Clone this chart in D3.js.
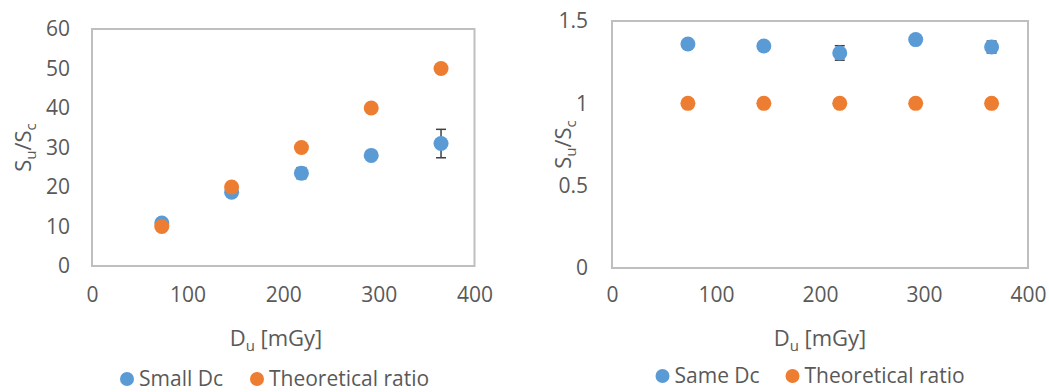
<!DOCTYPE html>
<html>
<head>
<meta charset="utf-8">
<script src="https://cdn.jsdelivr.net/npm/d3@7"></script>
<style>
  html, body { margin: 0; padding: 0; background: #fff; }
  svg { display: block; }
  text { font-family: "Open Sans", "Noto Sans", sans-serif; fill: #595959; }
</style>
</head>
<body>
<svg id="chart" width="1049" height="392"></svg>
<script>
// Absorbed dose of the unknown sample, mGy
const doses = [73, 146, 219, 292, 365];

// Left panel: small control dose
const smallDc = [10.9, 18.7, 23.5, 28.0, 31.0];
const smallDcErr = [0.3, 0.4, 1.4, 0.4, 3.6];
const smallTheory = [10, 20, 30, 40, 50];
const smallYTicks = [0, 10, 20, 30, 40, 50, 60];

// Right panel: same control dose
const sameDc = [1.360, 1.348, 1.306, 1.387, 1.342];
const sameDcErr = [0.005, 0.005, 0.044, 0.005, 0.036];
const sameTheory = [1, 1, 1, 1, 1];
const sameYTicks = [0, 0.5, 1, 1.5];

const xTicks = [0, 100, 200, 300, 400];

const BLUE = "#5b9bd5", ORANGE = "#ed7d31", FRAME = "#bfbfbf", ERR = "#404040";
const FS = 21;     // tick labels and legend
const TFS = 22;    // axis titles

const svg = d3.select("#chart");

function panel(cfg) {
  const g = svg.append("g");
  const x = d3.scaleLinear().domain([0, 400]).range([cfg.left, cfg.right]);
  const y = d3.scaleLinear().domain(cfg.yDomain).range([cfg.bottom, cfg.top]);

  // plot area frame
  g.append("rect")
    .attr("x", cfg.left).attr("y", cfg.top)
    .attr("width", cfg.right - cfg.left).attr("height", cfg.bottom - cfg.top)
    .attr("fill", "none").attr("stroke", FRAME).attr("stroke-width", 2);

  // y tick labels
  const yAxis = d3.axisLeft(y).tickValues(cfg.yTicks).tickSize(0).tickPadding(cfg.yPad)
    .tickFormat(d3.format("~g"));
  g.append("g").attr("transform", `translate(${cfg.left},0)`).call(yAxis)
    .call(a => a.select(".domain").remove())
    .selectAll("text").attr("font-size", FS).attr("fill", "#595959")
    .attr("font-family", "'Open Sans', sans-serif");

  // x tick labels
  const xAxis = d3.axisBottom(x).tickValues(xTicks).tickSize(0).tickPadding(cfg.xPad)
    .tickFormat(d3.format("d"));
  g.append("g").attr("transform", `translate(0,${cfg.bottom})`).call(xAxis)
    .call(a => a.select(".domain").remove())
    .selectAll("text").attr("font-size", FS).attr("fill", "#595959")
    .attr("font-family", "'Open Sans', sans-serif");

  // error bars (under the markers)
  const eb = g.append("g").attr("stroke", ERR).attr("stroke-width", 1.5);
  cfg.measured.forEach((v, i) => {
    const cx = x(doses[i]), e = cfg.err[i];
    eb.append("line").attr("x1", cx).attr("x2", cx).attr("y1", y(v - e)).attr("y2", y(v + e));
    [v - e, v + e].forEach(w => eb.append("line")
      .attr("x1", cx - 5).attr("x2", cx + 5).attr("y1", y(w)).attr("y2", y(w)));
  });

  // measured series
  g.append("g").selectAll("circle").data(cfg.measured).join("circle")
    .attr("cx", (d, i) => x(doses[i])).attr("cy", d => y(d))
    .attr("r", 7.5).attr("fill", BLUE);

  // theoretical series
  g.append("g").selectAll("circle").data(cfg.theory).join("circle")
    .attr("cx", (d, i) => x(doses[i])).attr("cy", d => y(d))
    .attr("r", 7.5).attr("fill", ORANGE);

  // y axis title S_u/S_c
  const yt = g.append("text")
    .attr("transform", `translate(${cfg.yTitleX},${(cfg.top + cfg.bottom) / 2}) rotate(-90)`)
    .attr("text-anchor", "middle").attr("font-size", TFS);
  yt.append("tspan").text("S");
  yt.append("tspan").attr("font-size", 15).attr("dy", 5).text("u");
  yt.append("tspan").attr("dy", -5).text("/S");
  yt.append("tspan").attr("font-size", 15).attr("dy", 5).text("c");

  // x axis title D_u [mGy]
  const xt = g.append("text")
    .attr("x", cfg.xTitleX).attr("y", 346)
    .attr("text-anchor", "middle").attr("font-size", TFS);
  xt.append("tspan").text("D");
  xt.append("tspan").attr("font-size", 15).attr("dy", 5).text("u");
  xt.append("tspan").attr("dy", -5).text(" [mGy]");

  // legend
  const lg = g.append("g");
  cfg.legend.forEach(item => {
    lg.append("circle").attr("cx", item.cx).attr("cy", cfg.legendY - 7)
      .attr("r", 7).attr("fill", item.color);
    lg.append("text").attr("x", item.cx + 12).attr("y", cfg.legendY)
      .attr("font-size", FS).text(item.label);
  });
}

panel({
  left: 92, right: 474.5, top: 29, bottom: 266,
  yDomain: [0, 60], yTicks: smallYTicks, yPad: 22, xPad: 21,
  measured: smallDc, err: smallDcErr, theory: smallTheory,
  yTitleX: 31, xTitleX: 276, legendY: 386,
  legend: [
    { cx: 127, color: BLUE, label: "Small Dc" },
    { cx: 257, color: ORANGE, label: "Theoretical ratio" }
  ]
});

panel({
  left: 612, right: 1028, top: 21, bottom: 268,
  yDomain: [0, 1.5], yTicks: sameYTicks, yPad: 24, xPad: 19,
  measured: sameDc, err: sameDcErr, theory: sameTheory,
  yTitleX: 571, xTitleX: 820, legendY: 383,
  legend: [
    { cx: 662.5, color: BLUE, label: "Same Dc" },
    { cx: 792.5, color: ORANGE, label: "Theoretical ratio" }
  ]
});
</script>
</body>
</html>
